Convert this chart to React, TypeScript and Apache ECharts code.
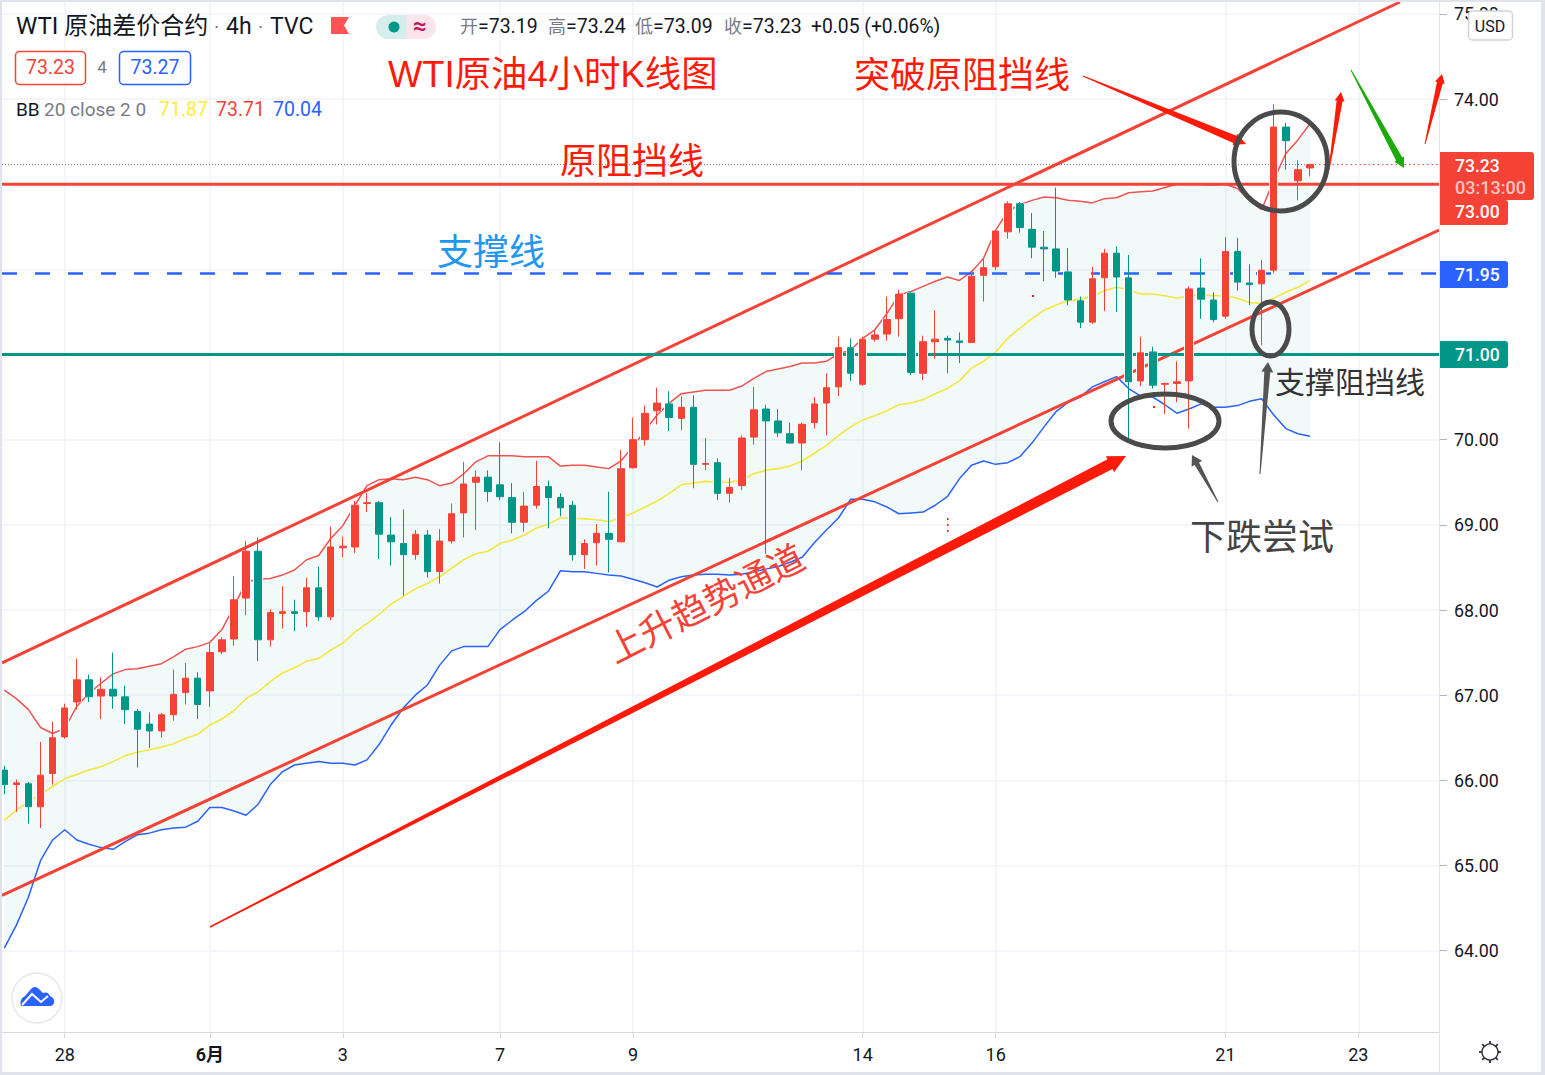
import React, { useEffect, useRef } from "react";
import * as echarts from "echarts";

const opens = [66.12,65.95,65.96,65.69,66.08,66.51,66.92,67.18,66.99,67.07,
66.98,66.81,66.66,66.58,66.77,67.03,67.20,67.05,67.51,67.66,
68.14,68.69,67.65,67.96,67.98,67.98,68.26,67.92,68.73,68.74,
69.25,69.26,68.88,68.78,68.65,68.88,68.45,68.81,69.14,69.50,
69.56,69.47,69.32,69.03,69.23,69.45,69.32,69.23,68.65,68.79,
68.90,68.80,69.67,70.00,70.34,70.42,70.25,70.38,69.71,69.73,
69.37,69.46,70.03,70.36,70.22,70.07,69.96,70.20,70.43,70.62,
71.08,70.65,71.18,71.24,71.42,71.72,70.78,71.15,71.19,71.16,
71.14,71.93,72.03,72.44,72.77,72.47,72.26,72.24,71.97,71.63,
71.38,71.90,72.19,71.90,70.69,71.03,70.65,70.66,70.69,71.78,
71.64,71.45,72.21,71.84,71.83,71.99,73.67,73.04,73.19];
const closes = [65.95,65.97,65.69,66.06,66.50,66.85,67.18,66.98,67.07,66.99,
66.83,66.60,66.58,66.77,67.01,67.20,66.89,67.50,67.65,68.12,
68.69,67.65,67.97,67.98,67.96,68.26,67.92,68.74,68.75,69.23,
69.26,68.89,68.80,68.65,68.89,68.45,68.81,69.13,69.48,69.56,
69.39,69.33,69.03,69.22,69.45,69.32,69.20,68.65,68.78,68.90,
68.83,69.66,70.00,70.31,70.43,70.26,70.38,69.71,69.72,69.37,
69.44,70.02,70.35,70.22,70.08,69.96,70.18,70.42,70.61,71.08,
70.78,71.18,71.23,71.41,71.71,70.79,71.15,71.18,71.17,71.14,
71.92,72.02,72.45,72.77,72.49,72.26,72.24,71.98,71.64,71.38,
71.89,72.19,71.91,70.68,71.02,70.64,70.66,70.68,71.77,71.65,
71.41,72.21,71.85,71.82,71.99,73.67,73.51,73.17,73.23];
const highs = [66.17,66.01,65.98,66.45,66.69,66.90,67.43,67.24,67.21,67.50,
67.11,66.84,66.80,66.79,67.30,67.38,67.27,67.61,67.68,68.40,
68.81,68.85,68.01,68.28,68.12,68.38,68.51,68.98,68.86,69.28,
69.37,69.28,69.09,69.18,68.94,68.94,68.95,69.25,69.74,69.64,
69.64,69.97,69.49,69.39,69.75,69.52,69.37,69.28,68.83,69.01,
69.39,69.88,70.26,70.40,70.61,70.57,70.51,70.52,70.02,69.78,
69.55,70.05,70.62,70.41,70.36,70.20,70.20,70.50,70.78,71.21,
71.19,71.21,71.29,71.68,71.76,71.74,71.22,71.52,71.22,71.26,
71.99,72.13,72.47,72.80,72.79,72.66,72.45,72.96,72.25,71.68,
72.03,72.24,72.27,72.17,71.21,71.09,70.67,70.92,71.80,72.13,
71.73,72.38,72.37,72.06,72.11,73.94,73.72,73.28,73.24];
const lows = [65.84,65.63,65.49,65.44,65.95,66.49,66.83,66.92,66.72,66.84,
66.66,66.15,66.38,66.50,66.70,66.89,66.72,66.86,67.48,67.58,
67.94,67.40,67.57,67.78,67.75,67.80,67.87,67.88,68.62,68.67,
69.15,68.60,68.52,68.17,68.59,68.38,68.31,68.78,68.85,68.94,
69.27,69.29,68.90,68.92,69.19,68.96,69.10,68.58,68.48,68.52,
68.44,68.80,69.66,69.93,70.18,70.10,70.11,69.43,69.64,69.29,
69.26,69.41,69.94,68.66,70.03,69.96,69.64,70.13,70.05,70.51,
70.69,70.63,71.15,71.16,71.21,70.76,70.70,70.95,70.78,70.90,
71.14,71.62,71.99,72.36,72.43,72.13,71.86,71.90,71.58,71.31,
71.36,71.51,71.50,69.97,70.63,70.60,70.30,70.44,70.13,71.42,
71.38,71.42,71.75,71.58,71.11,71.96,73.17,72.81,73.09];
const bbUpper = [67.06,66.96,66.83,66.62,66.55,66.61,66.87,67.02,67.14,67.25,
67.30,67.31,67.34,67.37,67.45,67.54,67.57,67.62,67.77,68.04,
68.33,68.36,68.37,68.41,68.47,68.59,68.64,68.84,68.99,69.23,
69.46,69.53,69.54,69.53,69.56,69.53,69.46,69.49,69.60,69.74,
69.81,69.81,69.81,69.80,69.80,69.80,69.69,69.70,69.70,69.68,
69.66,69.75,69.92,70.11,70.29,70.43,70.54,70.56,70.58,70.58,
70.58,70.63,70.72,70.80,70.83,70.86,70.90,70.90,70.92,71.01,
71.05,71.19,71.29,71.48,71.70,71.74,71.80,71.86,71.91,71.87,
71.97,72.13,72.46,72.68,72.76,72.81,72.85,72.84,72.81,72.80,
72.78,72.83,72.84,72.90,72.91,72.92,72.96,73.00,73.00,73.00,
72.99,73.00,72.95,72.81,72.70,73.05,73.36,73.52,73.71];
const bbMiddle = [65.53,65.65,65.75,65.83,65.93,66.02,66.07,66.12,66.16,66.22,
66.29,66.33,66.36,66.39,66.43,66.49,66.54,66.65,66.72,66.82,
66.96,67.04,67.16,67.26,67.32,67.40,67.43,67.53,67.61,67.74,
67.84,67.95,68.07,68.16,68.25,68.31,68.39,68.49,68.59,68.66,
68.69,68.78,68.82,68.88,68.96,69.01,69.08,69.08,69.07,69.06,
69.04,69.08,69.14,69.21,69.28,69.37,69.47,69.49,69.51,69.50,
69.50,69.53,69.60,69.64,69.66,69.69,69.75,69.84,69.93,70.05,
70.15,70.23,70.28,70.34,70.41,70.43,70.47,70.54,70.60,70.69,
70.84,70.92,71.03,71.19,71.31,71.42,71.52,71.58,71.63,71.65,
71.68,71.75,71.79,71.76,71.71,71.71,71.69,71.66,71.69,71.70,
71.69,71.69,71.66,71.61,71.60,71.66,71.73,71.79,71.87];
const bbLower = [64.03,64.30,64.63,65.06,65.30,65.42,65.30,65.25,65.21,65.19,
65.28,65.36,65.38,65.42,65.44,65.45,65.52,65.68,65.68,65.64,
65.59,65.72,65.95,66.10,66.18,66.20,66.22,66.20,66.20,66.18,
66.24,66.42,66.65,66.85,67.00,67.12,67.35,67.52,67.57,67.57,
67.57,67.77,67.88,67.98,68.11,68.22,68.46,68.45,68.45,68.43,
68.41,68.40,68.36,68.32,68.27,68.35,68.39,68.41,68.42,68.42,
68.41,68.42,68.45,68.48,68.51,68.56,68.62,68.79,68.94,69.08,
69.30,69.30,69.27,69.21,69.13,69.14,69.15,69.23,69.33,69.54,
69.70,69.75,69.71,69.73,69.80,69.96,70.15,70.33,70.44,70.50,
70.62,70.68,70.74,70.60,70.51,70.50,70.41,70.31,70.36,70.42,
70.38,70.38,70.40,70.45,70.48,70.29,70.13,70.07,70.04];

const xTickIndex = [5, 17, 28, 41, 52, 71, 82, 101, 112];
const xTickLabels = ["28", "6月", "3", "7", "9", "14", "16", "21", "23"];
const priceTicks = [64, 65, 66, 67, 68, 69, 70, 71, 72, 73, 74, 75];
const priceLabels = [64, 65, 66, 67, 68, 69, 70, 74, 75];

const X_MIN = -0.19;
const X_MAX = 118.67;
const Y_MIN = 63.045;
const Y_MAX = 75.139;

const channelUpper = [[X_MIN, 67.38], [115.44, Y_MAX]];
const channelLower = [[X_MIN, 64.65], [X_MAX, 72.46]];
const resistance = 73.0;
const support = 71.95;
const greenLevel = 71.0;
const lastPrice = 73.23;

const RED = "#f44336";
const GREEN = "#009688";
const BLUE = "#2962ff";
const INK = "#131722";
const GREY = "#787b86";
const HAND = "#ff1a0a";
const UI_FONT = "Roboto, 'Noto Sans CJK SC', sans-serif";
const CJK_FONT = "'Liberation Sans', 'Noto Sans CJK SC', sans-serif";

function text(x: number, y: number, s: string, size: number, fill: string, extra: any = {}) {
  const { align, weight, family, ...rest } = extra;
  return {
    type: "text", x, y, z: 100, silent: true, ...rest,
    style: { text: s, fontSize: size, fontFamily: family || UI_FONT, fontWeight: weight || "normal", fill, align: align || "left", verticalAlign: "middle" },
  };
}
function rect(x: number, y: number, w: number, h: number, style: any, r: any = 0, z = 99) {
  return { type: "rect", z, silent: true, shape: { x, y, width: w, height: h, r }, style };
}
function arrow(x0: number, y0: number, x1: number, y1: number, w0: number, w1: number, headW: number, headLen: number, fill: string) {
  const len = Math.hypot(x1 - x0, y1 - y0);
  const ux = (x1 - x0) / len, uy = (y1 - y0) / len;
  const nx = -uy, ny = ux;
  const mx = x1 - ux * headLen, my = y1 - uy * headLen;
  return {
    type: "polygon", z: 101, silent: true,
    shape: { points: [
      [x0 + nx * w0 / 2, y0 + ny * w0 / 2], [mx + nx * w1 / 2, my + ny * w1 / 2], [mx + nx * headW / 2, my + ny * headW / 2],
      [x1, y1],
      [mx - nx * headW / 2, my - ny * headW / 2], [mx - nx * w1 / 2, my - ny * w1 / 2], [x0 - nx * w0 / 2, y0 - ny * w0 / 2],
    ] },
    style: { fill },
  };
}
function ellipse(cx: number, cy: number, rx: number, ry: number) {
  return { type: "ellipse", z: 102, silent: true, shape: { cx, cy, rx, ry }, style: { fill: "none", stroke: "#4a4a4a", lineWidth: 5 } };
}
function seg(points: number[][], color: string, width: number, lineType: any = "solid", z = 3) {
  return {
    type: "line", data: points, showSymbol: false, symbol: "none", silent: true, z,
    lineStyle: { color, width, type: lineType }, itemStyle: { color },
  };
}

echarts.graphic.registerShape("cloudLogo", echarts.graphic.extendPath(
  "M21 1006 Q19 999 25 996 L32 988 Q36 985 40 990 L43 993 Q48 991 50 996 Q55 998 54 1003 Q53 1006 50 1006 Z", {}) as any);

function gearSpokes(cx: number, cy: number) {
  const out: any[] = [];
  for (let i = 0; i < 8; i++) {
    const a = (i / 8) * Math.PI * 2;
    out.push({
      type: "line", z: 100, silent: true,
      shape: { x1: cx + 8 * Math.cos(a), y1: cy + 8 * Math.sin(a), x2: cx + 11 * Math.cos(a), y2: cy + 11 * Math.sin(a) },
      style: { stroke: "#2a2e39", lineWidth: 1.8 },
    });
  }
  return out;
}

const graphics: any[] = [
  // price tags
  rect(1439, 200, 69, 25, { fill: RED }, [0, 3, 3, 0]),
  text(1455, 211.5, "73.00", 17.5, "#fff", { weight: 500 }),
  rect(1439, 152, 95, 48, { fill: RED }, [0, 3, 3, 0]),
  text(1455, 166, "73.23", 17.5, "#fff", { weight: 500 }),
  text(1455, 187, "03:13:00", 18, "rgba(255,255,255,0.7)", { weight: 500 }),
  rect(1439, 261, 69, 27, { fill: BLUE }, [0, 3, 3, 0]),
  text(1455, 275, "71.95", 17.5, "#fff", { weight: 500 }),
  rect(1439, 341, 69, 27, { fill: GREEN }, [0, 3, 3, 0]),
  text(1455, 355, "71.00", 17.5, "#fff", { weight: 500 }),
  rect(1468.5, 11, 44, 29, { fill: "#fff", stroke: "#d1d4dc", lineWidth: 1.5 }, 4),
  text(1490, 26, "USD", 16, INK, { align: "center" }),
  // header
  text(16, 26, "WTI 原油差价合约", 24, INK),
  text(214, 27, "·", 20, GREY),
  text(226, 26, "4h", 23, INK),
  text(258, 27, "·", 20, GREY),
  text(270, 26, "TVC", 23, INK),
  { type: "polygon", z: 100, silent: true, shape: { points: [[331, 17], [349, 17], [344, 25.5], [349, 34], [331, 34]] }, style: { fill: "#ff5252" } },
  rect(376, 15, 30, 24, { fill: "#d6eeeb" }, [12, 0, 0, 12]),
  rect(406, 15, 30, 24, { fill: "#fce4ec" }, [0, 12, 12, 0]),
  { type: "circle", z: 100, silent: true, shape: { cx: 394, cy: 27, r: 5.5 }, style: { fill: GREEN } },
  text(420, 26, "≈", 24, "#c2185b", { align: "center", weight: "bold" }),
  text(460, 26, "开", 18, GREY), text(478, 26, "=73.19", 19.5, INK),
  text(548, 26, "高", 18, GREY), text(566, 26, "=73.24", 19.5, INK),
  text(635, 26, "低", 18, GREY), text(653, 26, "=73.09", 19.5, INK),
  text(724, 26, "收", 18, GREY), text(742, 26, "=73.23", 19.5, INK),
  text(811, 26, "+0.05 (+0.06%)", 19.3, INK),
  rect(15.5, 51.5, 70, 33, { fill: "#fff", stroke: RED, lineWidth: 1.5 }, 4),
  text(50.5, 67, "73.23", 19.5, RED, { align: "center" }),
  text(102, 67, "4", 17, GREY, { align: "center" }),
  rect(119.5, 51.5, 71, 33, { fill: "#fff", stroke: BLUE, lineWidth: 1.5 }, 4),
  text(155, 67, "73.27", 19.5, BLUE, { align: "center" }),
  text(16, 109, "BB", 19, INK),
  text(44, 109, "20 close 2 0", 19, GREY),
  text(159, 109, "71.87", 19.5, "#ffeb3b"),
  text(216, 109, "73.71", 19.5, RED),
  text(273, 109, "70.04", 19.5, BLUE),
  // annotations
  text(388, 74, "WTI原油4小时K线图", 36.4, HAND, { family: CJK_FONT }),
  text(854, 75, "突破原阻挡线", 36, HAND, { family: CJK_FONT }),
  text(560, 161, "原阻挡线", 36, HAND, { family: CJK_FONT }),
  text(437, 252, "支撑线", 36, "#2196f3", { family: CJK_FONT }),
  text(1275, 382, "支撑阻挡线", 30, "#333333", { family: CJK_FONT }),
  text(1190, 537, "下跌尝试", 36, "#444444", { family: CJK_FONT }),
  text(706, 604, "上升趋势通道", 36, "#f44336", { family: CJK_FONT, align: "center", rotation: 0.47 }),
  arrow(210, 927, 1126, 456, 1.5, 11, 18, 18, HAND),
  arrow(1083, 76, 1246, 144, 1, 8, 12, 12, HAND),
  arrow(1329, 170, 1341, 92, 1, 6, 10, 9, HAND),
  arrow(1425, 144, 1442, 74, 1, 6, 10, 9, HAND),
  arrow(1351, 70, 1404, 168, 1, 7, 11, 10, "#1aaa0a"),
  arrow(1260, 474, 1268, 362, 1, 6, 12, 10, "#555555"),
  arrow(1218, 502, 1192, 455, 1, 5, 12, 10, "#555555"),
  ellipse(1280.7, 161.5, 46.7, 49.5),
  ellipse(1270.5, 329, 18.5, 27),
  ellipse(1165, 421, 54, 27),
  rect(947, 518, 1.5, 2, { fill: HAND }), rect(947, 524, 1.5, 2, { fill: HAND }), rect(947, 530, 1.5, 2, { fill: HAND }),
  rect(1032, 295, 2, 2, { fill: HAND }), rect(1153, 406, 2, 2, { fill: HAND }),
  // logo + gear
  { type: "circle", z: 100, silent: true, shape: { cx: 37, cy: 998, r: 25 }, style: { fill: "#fff", stroke: "#e8e8e8", lineWidth: 1.5 } },
  { type: "cloudLogo", z: 101, silent: true, x: 0, y: 0, style: { fill: BLUE } },
  { type: "polyline", z: 102, silent: true, shape: { points: [[22, 1005], [32, 994], [41, 1002], [48, 996]] }, style: { fill: "none", stroke: "#fff", lineWidth: 2 } },
  { type: "circle", z: 100, silent: true, shape: { cx: 1490, cy: 1052, r: 8 }, style: { fill: "none", stroke: "#2a2e39", lineWidth: 1.4 } },
  ...gearSpokes(1490, 1052),
  // frame
  rect(0, 0, 1545, 2, { fill: "#e0e3eb" }, 0, 110),
  rect(0, 0, 2, 1075, { fill: "#e0e3eb" }, 0, 110),
  rect(1541, 0, 4, 1075, { fill: "#e0e3eb" }, 0, 110),
  rect(0, 1072, 1545, 3, { fill: "#e0e3eb" }, 0, 110),
  { type: "line", z: 99, silent: true, shape: { x1: 1439.5, y1: 2, x2: 1439.5, y2: 1073 }, style: { stroke: "#e0e3eb", lineWidth: 1 } },
];

export default function App() {
  const ref = useRef<HTMLDivElement>(null);
  useEffect(() => {
    document.body.style.margin = "0";
    const chart = echarts.init(ref.current!, undefined, { renderer: "svg" });
    const idx = opens.map((_, i) => i);
    const candle = idx.map((i) => [i, opens[i], closes[i], lows[i], highs[i]]);
    const line = (a: number[]) => idx.map((i) => [i, a[i]]);
    const option: any = {
      animation: false,
      backgroundColor: "#ffffff",
      grid: { left: 2, top: 2, right: 106, bottom: 43, containLabel: false },
      xAxis: {
        type: "value", min: X_MIN, max: X_MAX,
        axisLine: { show: true, onZero: false, lineStyle: { color: "#d6d9e0" } },
        axisTick: { show: true, length: 6, customValues: xTickIndex, lineStyle: { color: "#d6d9e0" } },
        axisLabel: {
          show: true, customValues: xTickIndex, margin: 13, fontSize: 18, color: INK, fontFamily: UI_FONT,
          formatter: (v: number) => {
            const s = xTickLabels[xTickIndex.indexOf(v)];
            return s === "6月" ? "{b|6月}" : s;
          },
          rich: { b: { fontSize: 18, fontWeight: "bold", color: INK, fontFamily: UI_FONT } },
        },
        splitLine: { show: false },
      },
      yAxis: {
        type: "value", position: "right", min: Y_MIN, max: Y_MAX,
        axisLine: { show: false, onZero: false },
        axisTick: { show: true, length: 8, customValues: priceTicks, lineStyle: { color: "#b2b5be" } },
        axisLabel: {
          show: true, customValues: priceLabels, margin: 15, fontSize: 17.8, color: INK, fontFamily: UI_FONT,
          padding: [0, 0, 2, 0],
          formatter: (v: number) => v.toFixed(2),
        },
        splitLine: { show: false },
      },
      graphic: { elements: graphics },
      series: [
        {
          type: "line", data: [[X_MIN, 70]], showSymbol: false, silent: true, z: 0, lineStyle: { width: 0 },
          markLine: {
            z: 0, silent: true, symbol: "none", label: { show: false }, animation: false,
            lineStyle: { color: "#f0f3fa", width: 1.5, type: "solid" },
            data: [...priceTicks.map((p) => ({ yAxis: p })), ...xTickIndex.map((x) => ({ xAxis: x }))],
          },
        },
        {
          type: "custom", z: 1, silent: true, data: line(bbUpper), encode: { x: 0, y: 1 },
          renderItem: (params: any, api: any) => {
            if (params.dataIndex !== 0) return null;
            const pts = [
              ...idx.map((i) => api.coord([i, bbUpper[i]])),
              ...idx.slice().reverse().map((i) => api.coord([i, bbLower[i]])),
            ];
            return { type: "polygon", shape: { points: pts }, style: { fill: "rgba(0,150,136,0.05)" } };
          },
        },
        { ...seg(line(bbUpper), "#ef5350", 1.5, "solid", 2), name: "BB Upper" },
        { ...seg(line(bbMiddle), "#f5e642", 1.6, "solid", 2), name: "BB Basis" },
        { ...seg(line(bbLower), BLUE, 1.5, "solid", 2), name: "BB Lower" },
        seg([[X_MIN, lastPrice], [108, lastPrice]], "#787b86", 1, [1, 2], 3),
        seg([[108, lastPrice], [X_MAX, lastPrice]], RED, 1, [1.5, 3], 3),
        seg(channelUpper, RED, 3, "solid", 3),
        seg(channelLower, RED, 3, "solid", 3),
        seg([[X_MIN, resistance], [X_MAX, resistance]], RED, 3, "solid", 3),
        seg([[X_MIN, support], [X_MAX, support]], BLUE, 2.5, [15, 18], 3),
        seg([[X_MIN, greenLevel], [X_MAX, greenLevel]], GREEN, 3, "solid", 3),
        {
          type: "candlestick", z: 4, silent: true, barWidth: 9, data: candle, encode: { x: 0, y: [1, 2, 3, 4] },
          itemStyle: { color: "#fff", color0: "#fff", borderColor: "#fff", borderColor0: "#fff", borderWidth: 1 },
        },
        {
          type: "candlestick", z: 5, silent: true, barWidth: 7, name: "WTI", data: candle, encode: { x: 0, y: [1, 2, 3, 4] },
          itemStyle: { color: RED, color0: GREEN, borderColor: RED, borderColor0: GREEN, borderWidth: 1 },
        },
      ],
    };
    chart.setOption(option);
    return () => chart.dispose();
  }, []);
  return <div ref={ref} style={{ width: 1545, height: 1075 }} />;
}
